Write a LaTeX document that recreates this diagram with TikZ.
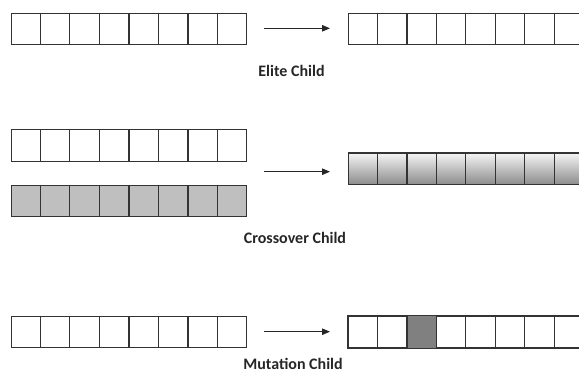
\documentclass[tikz,border=0pt]{standalone}
\usepackage{fontspec}
\setmainfont{Carlito}
\usetikzlibrary{calc,arrows.meta}
\begin{document}
\begin{tikzpicture}[x=1pt,y=-1pt,
  chrom/.style={draw=black!80, line width=1.2pt, fill=white, rectangle, inner sep=0pt,
    minimum height=31.5pt, anchor=north west},
  leftc/.style={chrom, minimum width=235.3pt},
  rightc/.style={chrom, minimum width=234.5pt},
  parentb/.style={fill=black!25},
  childx/.style={top color=black!4, bottom color=black!45},
  mutc/.style={fill=black!50},
  divl/.style={draw=black!80, line width=1.2pt},
  arr/.style={draw=black!85, line width=0.9pt, -{Triangle[length=8pt,width=6.5pt]}},
  lab/.style={font=\fontsize{16}{19}\selectfont\bfseries, text=black!85, inner sep=0pt}
]
\useasboundingbox (0,0) rectangle (579,372);
\clip (0,0) rectangle (579,372);
\newcommand{\cellsplit}[1]{%
  \foreach \i in {1,...,7}
    \draw[divl] ($(#1.north west)!\i/8!(#1.north east)$) -- ($(#1.south west)!\i/8!(#1.south east)$);}
% Elite
\node[leftc] (e1) at (10.7,12.7) {};
\node[rightc] (e2) at (348,12.7) {};
\cellsplit{e1}\cellsplit{e2}
\coordinate (ea) at (264,28.3);
\coordinate (eb) at (330,28.3);
\draw[arr] (ea) -- (eb);
\node[lab] (el) at (291.5,71) {Elite Child};
% Crossover
\node[leftc] (c1) at (10.7,129) {};
\node[leftc, parentb] (c2) at (10.7,184.5) {};
\node[rightc, childx] (c3) at (348,152.3) {};
\cellsplit{c1}\cellsplit{c2}\cellsplit{c3}
\coordinate (ca) at (264,171.7);
\coordinate (cb) at (330,171.7);
\draw[arr] (ca) -- (cb);
\node[lab] (cl) at (295,238) {Crossover Child};
% Mutation
\node[leftc] (m1) at (10.7,315.7) {};
\node[rightc] (m2) at (348,315.7) {};
\fill[mutc] ($(m2.north west)!2/8!(m2.north east)$) rectangle ($(m2.south west)!3/8!(m2.south east)$);
\draw[divl] (m2.north west) rectangle (m2.south east);
\cellsplit{m1}\cellsplit{m2}
\coordinate (ma) at (264,331.7);
\coordinate (mb) at (330,331.7);
\draw[arr] (ma) -- (mb);
\node[lab] (ml) at (293,363.5) {Mutation Child};
\end{tikzpicture}
\end{document}
